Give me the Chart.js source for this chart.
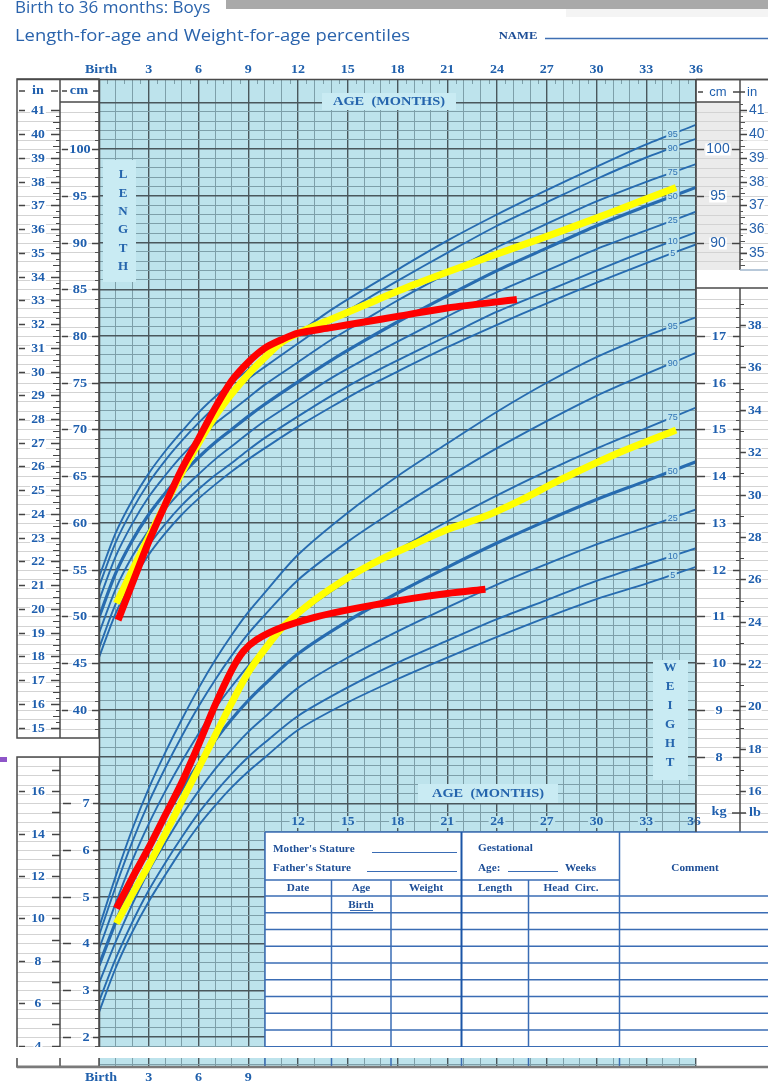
<!DOCTYPE html>
<html>
<head>
<meta charset="utf-8">
<title>Length-for-age and Weight-for-age percentiles</title>
<script src="https://cdn.jsdelivr.net/npm/chart.js@4.4.1/dist/chart.umd.min.js"></script>
<style>
  html, body { margin: 0; padding: 0; background: #fff; }
  canvas { display: block; }
</style>
</head>
<body>
<canvas id="growthChart" width="768" height="1086"></canvas>
<script>
// --- values ---
const lenAges = [0, 1, 2, 3, 4, 5, 6, 7, 8, 9, 10, 12, 14, 16, 18, 21, 24, 27, 30, 33, 36];
const len05 = [45.6, 50.3, 53.8, 56.6, 58.9, 60.9, 62.6, 64.1, 65.5, 66.8, 68.0, 70.3, 72.4, 74.4, 76.2, 78.8, 81.2, 83.5, 85.7, 87.8, 89.8];
const len10 = [46.6, 51.3, 54.8, 57.6, 59.9, 61.9, 63.6, 65.1, 66.4, 67.8, 69.1, 71.4, 73.6, 75.6, 77.4, 80.0, 82.6, 84.8, 87.0, 89.1, 91.1];
const len25 = [48.2, 52.9, 56.4, 59.2, 61.5, 63.5, 65.2, 66.8, 68.2, 69.6, 70.9, 73.2, 75.5, 77.5, 79.4, 82.1, 84.7, 87.0, 89.3, 91.3, 93.3];
const len50 = [49.9, 54.6, 58.1, 60.9, 63.2, 65.2, 67.0, 68.6, 70.0, 71.4, 72.7, 75.1, 77.4, 79.5, 81.5, 84.3, 87.0, 89.4, 91.8, 93.9, 95.9];
const len75 = [51.7, 56.4, 59.9, 62.8, 65.1, 67.2, 69.0, 70.6, 72.0, 73.4, 74.8, 77.2, 79.6, 81.7, 83.8, 86.7, 89.5, 92.0, 94.4, 96.5, 98.4];
const len90 = [53.2, 57.9, 61.4, 64.3, 66.7, 68.8, 70.7, 72.4, 73.9, 75.4, 76.7, 79.2, 81.6, 83.8, 85.9, 88.9, 91.8, 94.3, 96.8, 99.1, 101.1];
const len95 = [54.2, 58.9, 62.4, 65.3, 67.7, 69.8, 71.8, 73.5, 75.0, 76.4, 77.8, 80.3, 82.8, 85.0, 87.1, 90.2, 93.0, 95.6, 98.1, 100.5, 102.6];

const wtAges = [0, 1, 2, 3, 4, 5, 6, 7, 8, 9, 10, 12, 15, 18, 21, 24, 27, 30, 33, 36];
const wt05 = [2.53, 3.47, 4.24, 4.90, 5.47, 6.02, 6.52, 6.95, 7.34, 7.68, 7.98, 8.57, 9.16, 9.66, 10.12, 10.56, 10.98, 11.37, 11.70, 12.06];
const wt10 = [2.76, 3.67, 4.45, 5.14, 5.73, 6.28, 6.79, 7.23, 7.63, 7.99, 8.30, 8.87, 9.48, 10.01, 10.48, 10.94, 11.35, 11.76, 12.11, 12.46];
const wt25 = [3.15, 4.03, 4.83, 5.55, 6.16, 6.74, 7.26, 7.73, 8.15, 8.53, 8.85, 9.47, 10.12, 10.68, 11.19, 11.68, 12.12, 12.54, 12.91, 13.29];
const wt50 = [3.53, 4.45, 5.30, 6.05, 6.70, 7.30, 7.85, 8.35, 8.80, 9.20, 9.55, 10.20, 10.90, 11.50, 12.05, 12.57, 13.05, 13.50, 13.90, 14.31];
const wt75 = [3.88, 4.86, 5.77, 6.56, 7.26, 7.90, 8.49, 9.03, 9.50, 9.94, 10.31, 11.02, 11.77, 12.42, 13.03, 13.59, 14.11, 14.59, 15.03, 15.47];
const wt90 = [4.17, 5.21, 6.17, 7.02, 7.76, 8.44, 9.07, 9.64, 10.16, 10.63, 11.03, 11.78, 12.60, 13.31, 13.97, 14.60, 15.18, 15.72, 16.19, 16.64];
const wt95 = [4.34, 5.43, 6.44, 7.32, 8.09, 8.80, 9.46, 10.06, 10.60, 11.09, 11.51, 12.32, 13.22, 14.00, 14.70, 15.38, 16.00, 16.55, 17.00, 17.40];

// hand-drawn child curves [month, value]
const redLength = [[1.15, 49.6], [2, 53.5], [3, 58.0], [4, 62.0], [5, 65.8], [6, 69.0], [7, 72.3], [8, 75.2], [9, 77.2], [10, 78.7], [11, 79.6], [12, 80.3], [14, 80.9], [16, 81.5], [18, 82.1], [21, 83.0], [25.2, 83.9]];
const yellowLength = [[1.05, 51.4], [2, 54.9], [3, 58.5], [4, 62.0], [5, 65.4], [6, 68.5], [7, 71.4], [8, 73.8], [9, 75.9], [10, 77.7], [11, 79.3], [12.5, 80.7], [14, 81.8], [16, 83.3], [19, 85.5], [22, 87.5], [25, 89.4], [28, 91.3], [31, 93.3], [34.8, 95.9]];
const redWeight = [[1.05, 4.75], [2, 5.4], [3, 6.05], [4, 6.75], [5, 7.45], [6, 8.25], [7, 9.1], [8, 9.85], [8.7, 10.25], [9.5, 10.5], [11, 10.76], [13, 10.98], [15, 11.14], [17, 11.27], [19, 11.39], [21, 11.49], [23.3, 11.58]];
const yellowWeight = [[1.05, 4.43], [2, 5.05], [3, 5.68], [4, 6.35], [5, 7.05], [6, 7.75], [7, 8.45], [8, 9.15], [9, 9.8], [10, 10.3], [11.1, 10.78], [13, 11.35], [15.1, 11.85], [17, 12.22], [19.1, 12.56], [21, 12.86], [23.2, 13.13], [25.5, 13.5], [27.8, 13.92], [31, 14.45], [34.8, 14.99]];

const percentileNames = ['5', '10', '25', '50', '75', '90', '95'];
const ageTickMonths = [0, 3, 6, 9, 12, 15, 18, 21, 24, 27, 30, 33, 36];
const ageTickLabels = ['Birth', '3', '6', '9', '12', '15', '18', '21', '24', '27', '30', '33', '36'];
const lowerAgeTicks = [12, 15, 18, 21, 24, 27, 30, 33, 36];
const bottomAgeTicks = [0, 3, 6, 9];
const cmTicksLeft = [40, 45, 50, 55, 60, 65, 70, 75, 80, 85, 90, 95, 100];
const cmTicksRight = [90, 95, 100];
const inchTicksLeft = [15, 16, 17, 18, 19, 20, 21, 22, 23, 24, 25, 26, 27, 28, 29, 30, 31, 32, 33, 34, 35, 36, 37, 38, 39, 40, 41];
const inchTicksRight = [35, 36, 37, 38, 39, 40, 41];
const kgTicksLeft = [2, 3, 4, 5, 6, 7];
const kgTicksRight = [8, 9, 10, 11, 12, 13, 14, 15, 16, 17];
const lbTicksLeft = [4, 6, 8, 10, 12, 14, 16];
const lbTicksRight = [16, 18, 20, 22, 24, 26, 28, 30, 32, 34, 36, 38];

const lenSeries = [len05, len10, len25, len50, len75, len90, len95];
const wtSeries = [wt05, wt10, wt25, wt50, wt75, wt90, wt95];
const labelMonth = 34.6;

const C = {
  cyan: '#bde3ec', minor: '#7d9fa9', major: '#4a575c', curve: '#276cb0',
  ink: '#1f5fae', navy: '#1d4e97', tableLine: '#3a6cb4', frame: '#4a4a4a', rule: '#d3d3d3'
};
const SERIF = '"Liberation Serif", "DejaVu Serif", serif';

function pts(xs, ys) { return xs.map((x, i) => ({ x: x, y: ys[i] })); }
function pairs(arr) { return arr.map(p => ({ x: p[0], y: p[1] })); }
function interp(ages, vals, a) {
  for (let i = 1; i < ages.length; i++) {
    if (a <= ages[i]) {
      const t = (a - ages[i - 1]) / (ages[i] - ages[i - 1]);
      return vals[i - 1] + t * (vals[i] - vals[i - 1]);
    }
  }
  return vals[vals.length - 1];
}
const isWhole = v => Math.abs(v - Math.round(v)) < 1e-6;

function hline(ctx, x0, x1, y) { ctx.beginPath(); ctx.moveTo(x0, y); ctx.lineTo(x1, y); ctx.stroke(); }
function vline(ctx, x, y0, y1) { ctx.beginPath(); ctx.moveTo(x, y0); ctx.lineTo(x, y1); ctx.stroke(); }

function label(ctx, s, x, y, o) {
  ctx.save();
  ctx.font = o.font;
  ctx.textAlign = o.align || 'center';
  ctx.textBaseline = 'middle';
  ctx.translate(x, y);
  ctx.scale(o.sx || 1, 1);
  if (o.bg) {
    const w = ctx.measureText(s).width + (o.pad || 4);
    const left = ctx.textAlign === 'left' ? -2 : -w / 2;
    ctx.fillStyle = o.bg;
    ctx.fillRect(left, -(o.h || 12) / 2, w, o.h || 12);
  }
  ctx.fillStyle = o.color || C.ink;
  ctx.fillText(s, 0, 0);
  ctx.restore();
}

function drawPercentileNames(chart) {
  const { ctx, scales } = chart;
  const xLab = scales.x.getPixelForValue(labelMonth);
  ctx.save();
  ctx.font = '9px "Liberation Sans", sans-serif';
  ctx.textAlign = 'center';
  ctx.textBaseline = 'middle';
  const put = (val, scale, name) => {
    const y = scale.getPixelForValue(val);
    const w = ctx.measureText(name).width + 3;
    ctx.fillStyle = C.cyan;
    ctx.fillRect(xLab - w / 2, y - 4.5, w, 9);
    ctx.fillStyle = '#2f72b4';
    ctx.fillText(name, xLab, y + 0.5);
  };
  lenSeries.forEach((s, k) => put(interp(lenAges, s, labelMonth), scales.yL, percentileNames[k]));
  wtSeries.forEach((s, k) => put(interp(wtAges, s, labelMonth), scales.yW, percentileNames[k]));
  ctx.restore();
}

function leftPanel(ctx, a, YW, YL) {
  const x0 = 17, x1 = 60, x2 = a.left;
  const head = 102, upB = 738, loT = 757, loB = a.bottom;
  ctx.fillStyle = '#fff';
  ctx.fillRect(0, a.top, x2, loB - a.top);
  ctx.strokeStyle = C.rule; ctx.lineWidth = 1;
  for (let k = 7; k <= 110; k++) {
    const y = Math.round(YW(k * 0.2)) + 0.5;
    if ((y > head + 2 && y < upB) || (y > loT && y < loB)) hline(ctx, x0, x2, y);
  }
  // frames
  ctx.strokeStyle = C.frame; ctx.lineWidth = 1.5;
  ctx.strokeRect(x0, a.top, x2 - x0, upB - a.top);
  vline(ctx, x1, a.top, upB);
  hline(ctx, x1, x2, head);
  ctx.strokeRect(x0, loT, x2 - x0, loB - loT);
  vline(ctx, x1, loT, loB);

  const f = 'bold 13px ' + SERIF;
  ctx.strokeStyle = '#444'; ctx.lineWidth = 1.5;
  // headers
  hline(ctx, x0 + 2, x0 + 8, 91); hline(ctx, x1 - 9, x1 - 2, 91);
  label(ctx, 'in', 38, 91, { font: f, sx: 1.1 });
  hline(ctx, x1 + 2, x1 + 7, 91); hline(ctx, x2 - 6, x2, 91);
  label(ctx, 'cm', 79, 91, { font: f, sx: 1.1 });

  // inches (length part)
  inchTicksLeft.forEach(inch => {
    const y = Math.round(YL(inch * 2.54)) + 0.5;
    ctx.lineWidth = 1.5; ctx.strokeStyle = '#444';
    hline(ctx, x0 + 2, x0 + 8, y); hline(ctx, x1 - 9, x1, y);
    ctx.lineWidth = 1;
    for (let q = 1; q < 4; q++) {
      const yq = Math.round(YL((inch + q / 4) * 2.54)) + 0.5;
      if (yq > head + 3 && yq < upB) hline(ctx, x1 - (q === 2 ? 7 : 4), x1, yq);
    }
    label(ctx, String(inch), 38, y, { font: f, sx: 1.05, bg: '#fff', h: 11, pad: 2 });
  });
  // cm (length part)
  ctx.lineWidth = 1; ctx.strokeStyle = '#555';
  for (let cm = 38; cm <= 105; cm++) {
    const y = Math.round(YL(cm)) + 0.5;
    if (y > head + 2 && y < upB) hline(ctx, x2 - 4, x2, y);
  }
  cmTicksLeft.forEach(cm => {
    const y = Math.round(YL(cm)) + 0.5;
    ctx.lineWidth = 1.5; ctx.strokeStyle = '#444';
    hline(ctx, x1 + 2, x1 + 8, y); hline(ctx, x2 - 7, x2, y);
    label(ctx, String(cm), 80, y, { font: f, sx: 1.1, bg: '#fff', h: 11, pad: 2 });
  });
  // pounds (weight part)
  for (let lb = 4; lb <= 17; lb++) {
    const y = Math.round(YW(lb * 0.45359237)) + 0.5;
    if (y < loT + 3 || y > loB) continue;
    ctx.lineWidth = 1.5; ctx.strokeStyle = '#444';
    hline(ctx, x1 - 8, x1, y);
    if (lbTicksLeft.includes(lb)) {
      hline(ctx, x0 + 2, x0 + 8, y);
      label(ctx, String(lb), 38, y, { font: f, sx: 1.05, bg: '#fff', h: 11, pad: 2 });
    }
  }
  // kg (weight part)
  ctx.lineWidth = 1; ctx.strokeStyle = '#555';
  for (let k = 8; k <= 38; k++) {
    const y = Math.round(YW(k * 0.2)) + 0.5;
    if (y > loT + 2 && y < loB) hline(ctx, x2 - 4, x2, y);
  }
  kgTicksLeft.forEach(kg => {
    const y = Math.round(YW(kg)) + 0.5;
    ctx.lineWidth = 1.5; ctx.strokeStyle = '#444';
    hline(ctx, x1 + 3, x1 + 11, y); hline(ctx, x2 - 6, x2, y);
    label(ctx, String(kg), 86, y, { font: f, sx: 1.1, bg: '#fff', h: 11, pad: 2 });
  });
  ctx.fillStyle = '#8e55c8';
  ctx.fillRect(0, 757, 7, 5);
}

function rightPanel(ctx, a, YW, YL) {
  const x0 = a.right, x1 = 740, x2 = 768;
  const top = a.top, head = 102, upB = 270, loT = 288, loB = 832;
  ctx.fillStyle = '#fff';
  ctx.fillRect(x0 + 1, top, x2 - x0, loB - top);
  ctx.fillStyle = '#ebebeb';
  ctx.fillRect(x0 + 1, head, x1 - x0 - 1, upB - head);
  ctx.strokeStyle = C.rule; ctx.lineWidth = 1;
  for (let k = 7; k <= 110; k++) {
    const y = Math.round(YW(k * 0.2)) + 0.5;
    if ((y > head + 2 && y < upB) || (y > loT + 2 && y < loB - 4)) hline(ctx, x0, x2, y);
  }
  ctx.strokeStyle = C.frame; ctx.lineWidth = 1.5;
  hline(ctx, x0, x2, top + 0.5);
  vline(ctx, x1, top, upB);
  hline(ctx, x0, x1, head);
  hline(ctx, x0, x2, loT);
  vline(ctx, x1, loT, loB);
  ctx.strokeStyle = '#9fb6cc'; ctx.lineWidth = 1.5;
  hline(ctx, x1, x2, upB);

  const f = 'bold 13px ' + SERIF;
  ctx.strokeStyle = '#444'; ctx.lineWidth = 1.5;
  hline(ctx, x0 + 2, x0 + 7, 92); hline(ctx, x1 - 7, x1, 92);
  label(ctx, 'cm', 718, 92, { font: '13px "Liberation Sans", sans-serif' });
  hline(ctx, x1, x1 + 5, 92);
  label(ctx, 'in', 747, 92, { font: '13px "Liberation Sans", sans-serif', align: 'left' });

  cmTicksRight.forEach(cm => {
    const y = Math.round(YL(cm)) + 0.5;
    ctx.strokeStyle = '#444'; ctx.lineWidth = 1.5;
    hline(ctx, x0 + 1, x0 + 8, y); hline(ctx, x1 - 8, x1, y);
    label(ctx, String(cm), 718, y, { font: '14px "Liberation Sans", sans-serif', color: '#2762ac', bg: '#fff', h: 12, pad: 2 });
  });
  ctx.lineWidth = 1; ctx.strokeStyle = '#555';
  for (let q = 136; q <= 168; q++) {
    const y = Math.round(YL(q * 0.25 * 2.54)) + 0.5;
    if (y > head + 2 && y < upB) hline(ctx, x1, x1 + (q % 2 === 0 ? 5 : 3), y);
  }
  inchTicksRight.forEach(inch => {
    const y = Math.round(YL(inch * 2.54)) + 0.5;
    ctx.strokeStyle = '#444'; ctx.lineWidth = 1.5;
    hline(ctx, x1, x1 + 7, y);
    label(ctx, String(inch), 749, y, { font: '14px "Liberation Sans", sans-serif', color: '#2762ac', align: 'left', bg: '#fff', h: 12, pad: 2 });
  });
  // kg column
  ctx.lineWidth = 1; ctx.strokeStyle = '#555';
  for (let k = 36; k <= 88; k++) {
    const y = Math.round(YW(k * 0.2)) + 0.5;
    if (y > loT + 2 && y < 800) hline(ctx, x1 - 4, x1, y);
  }
  kgTicksRight.forEach(kg => {
    const y = Math.round(YW(kg)) + 0.5;
    ctx.strokeStyle = '#444'; ctx.lineWidth = 1.5;
    hline(ctx, x0 + 1, x0 + 9, y); hline(ctx, x1 - 7, x1, y);
    label(ctx, String(kg), 719, y, { font: f, sx: 1.1, bg: '#fff', h: 11, pad: 2 });
  });
  // lb column
  for (let lb = 15; lb <= 39; lb++) {
    const y = Math.round(YW(lb * 0.45359237)) + 0.5;
    if (y < loT + 3 || y > loB - 25) continue;
    ctx.strokeStyle = '#444'; ctx.lineWidth = lbTicksRight.includes(lb) ? 1.5 : 1;
    hline(ctx, x1, x1 + (lbTicksRight.includes(lb) ? 7 : 4), y);
    if (lbTicksRight.includes(lb)) label(ctx, String(lb), 748, y, { font: f, sx: 1.05, align: 'left', bg: '#fff', h: 11, pad: 2 });
  }
  ctx.strokeStyle = '#444'; ctx.lineWidth = 1.5;
  hline(ctx, x1 - 8, x1, 813); hline(ctx, x1, x1 + 6, 813);
  label(ctx, 'kg', 719, 812, { font: f, sx: 1.1, bg: '#fff', h: 11, pad: 2 });
  label(ctx, 'lb', 749, 813, { font: f, sx: 1.1, align: 'left', bg: '#fff', h: 11, pad: 2 });
}

function drawTable(ctx) {
  const x0 = 265, x1 = 768, y0 = 832, yEnd = 1047;
  const cA = 331.5, cB = 391, cC = 461.5, cD = 528.5, cE = 619.5;
  ctx.fillStyle = '#fff';
  ctx.fillRect(x0, y0, x1 - x0, yEnd - y0);
  ctx.strokeStyle = C.tableLine; ctx.lineWidth = 1.5;
  hline(ctx, x0, x1, y0); vline(ctx, x0, y0, yEnd);
  vline(ctx, cE, y0, yEnd);
  hline(ctx, x0, cE, 880);
  [cA, cB, cD].forEach(x => vline(ctx, x, 880, yEnd));
  for (let r = 0; r < 10; r++) hline(ctx, x0, x1, 896 + r * 16.74);
  ctx.strokeStyle = '#1b55a6'; ctx.lineWidth = 2;
  vline(ctx, cC, y0, yEnd);

  const f = 'bold 10px ' + SERIF;
  const o = { font: f, sx: 1.12, color: C.navy, align: 'left' };
  label(ctx, "Mother's Stature", 273, 849, o);
  label(ctx, "Father's Stature", 273, 868, o);
  label(ctx, 'Gestational', 478, 848, o);
  label(ctx, 'Age:', 478, 868, o);
  label(ctx, 'Weeks', 565, 868, o);
  const oc = { font: f, sx: 1.12, color: C.navy };
  label(ctx, 'Comment', 695, 868, oc);
  label(ctx, 'Date', 298, 888, oc);
  label(ctx, 'Age', 361, 888, oc);
  label(ctx, 'Weight', 426, 888, oc);
  label(ctx, 'Length', 495, 888, oc);
  label(ctx, 'Head  Circ.', 571, 888, oc);
  label(ctx, 'Birth', 361, 905, oc);
  ctx.strokeStyle = C.tableLine; ctx.lineWidth = 1;
  hline(ctx, 350, 373, 910.5);
  hline(ctx, 372, 457, 852.5);
  hline(ctx, 367, 457, 871.5);
  hline(ctx, 508, 558, 871.5);
}

const decor = {
  id: 'decor',
  beforeDraw(chart) {
    const { ctx, chartArea: a } = chart;
    ctx.save();
    ctx.fillStyle = '#fff';
    ctx.fillRect(0, 0, chart.width, chart.height);
    ctx.fillStyle = C.cyan;
    ctx.fillRect(a.left, a.top, a.right - a.left, a.bottom - a.top);
    ctx.restore();
  },
  beforeDatasetDraw(chart, args) {
    if (args.index === 3) drawPercentileNames(chart);
  },
  afterDraw(chart) {
    const { ctx, chartArea: a, scales } = chart;
    const X = v => scales.x.getPixelForValue(v);
    const YW = v => scales.yW.getPixelForValue(v);
    const YL = v => scales.yL.getPixelForValue(v);
    ctx.save();

    // half-month marks along the top strip
    ctx.strokeStyle = C.minor; ctx.lineWidth = 1;
    for (let m = 0.5; m < 36; m += 1) vline(ctx, Math.round(X(m)) + 0.5, a.top, a.top + 5);

    // light label boxes inside the grid
    const bf = 'bold 12px ' + SERIF;
    const boxBg = '#c9ebf3';
    ctx.fillStyle = boxBg;
    ctx.fillRect(322, 93, 134, 17);
    label(ctx, 'AGE  (MONTHS)', 389, 101.5, { font: bf, sx: 1.2, color: '#2565ad' });
    ctx.fillStyle = boxBg;
    ctx.fillRect(418, 784, 140, 19);
    label(ctx, 'AGE  (MONTHS)', 488, 793.5, { font: bf, sx: 1.2, color: '#2565ad' });
    ctx.fillStyle = boxBg;
    ctx.fillRect(103, 160, 33, 122);
    'LENGTH'.split('').forEach((ch, i) => label(ctx, ch, 123, 175 + i * 18.3, { font: 'bold 13px ' + SERIF, color: '#2565ad' }));
    ctx.fillStyle = boxBg;
    ctx.fillRect(653, 660, 35, 120);
    'WEIGHT'.split('').forEach((ch, i) => label(ctx, ch, 670, 668 + i * 19, { font: 'bold 13px ' + SERIF, color: '#2565ad' }));

    rightPanel(ctx, a, YW, YL);
    leftPanel(ctx, a, YW, YL);
    drawTable(ctx);

    lowerAgeTicks.forEach(m => label(ctx, String(m), X(m) - (m === 36 ? 2 : 0), 822, { font: 'bold 13px ' + SERIF, sx: 1.05, color: '#2565ad', bg: m === 36 ? null : C.cyan, h: 12, pad: 3 }));

    // white band near the bottom and the bottom edge
    ctx.fillStyle = '#fff';
    ctx.fillRect(15, 1047, 768 - 15, 11);
    ctx.strokeStyle = C.tableLine; ctx.lineWidth = 1.5;
    [265, 331.5, 391, 461.5, 528.5, 619.5].forEach(x => vline(ctx, x, 1058, 1066));
    ctx.strokeStyle = '#7a7a7a'; ctx.lineWidth = 2.5;
    hline(ctx, 17, 768, a.bottom);

    // chart frame
    ctx.strokeStyle = C.frame; ctx.lineWidth = 1.5;
    hline(ctx, 17, 768, a.top + 0.5);
    vline(ctx, a.left + 0.5, a.top, 1047);
    vline(ctx, a.right, a.top, 832);

    // headings
    ctx.fillStyle = '#a9a9a9';
    ctx.fillRect(226, 0, 542, 9);
    ctx.fillStyle = '#f4f4f4';
    ctx.fillRect(566, 9, 202, 8);
    ctx.font = '17px "Open Sans", sans-serif';
    ctx.fillStyle = '#2a63ac'; ctx.textAlign = 'left'; ctx.textBaseline = 'alphabetic';
    ctx.fillText('Birth to 36 months: Boys', 15, 13);
    ctx.save();
    const t2 = 'Length-for-age and Weight-for-age percentiles';
    const w2 = ctx.measureText(t2).width;
    ctx.translate(15, 41); ctx.scale(395 / w2, 1);
    ctx.fillText(t2, 0, 0);
    ctx.restore();
    label(ctx, 'NAME', 518, 36, { font: 'bold 11px ' + SERIF, sx: 1.15, color: '#1d4e97' });
    ctx.strokeStyle = '#3f6fb3'; ctx.lineWidth = 1.5;
    hline(ctx, 545, 768, 38.5);

    ageTickMonths.forEach((m, i) => label(ctx, ageTickLabels[i], X(m) + (m === 0 ? 2 : 0), 70, { font: 'bold 13px ' + SERIF, sx: 1.08, color: '#2060ac' }));
    bottomAgeTicks.forEach((m, i) => label(ctx, ageTickLabels[i], X(m) + (m === 0 ? 2 : 0), 1078, { font: 'bold 13px ' + SERIF, sx: 1.08, color: '#2060ac' }));
    ctx.restore();
  }
};

const datasets = [
  { label: 'Red length', data: pairs(redLength), yAxisID: 'yL', borderColor: '#ff0000', borderWidth: 7 },
  { label: 'Red weight', data: pairs(redWeight), yAxisID: 'yW', borderColor: '#ff0000', borderWidth: 7 },
  { label: 'Yellow length', data: pairs(yellowLength), yAxisID: 'yL', borderColor: '#ffff00', borderWidth: 7 },
  { label: 'Yellow weight', data: pairs(yellowWeight), yAxisID: 'yW', borderColor: '#ffff00', borderWidth: 7 }
];
lenSeries.forEach((s, k) => datasets.push({
  label: 'Length P' + percentileNames[k], data: pts(lenAges, s), yAxisID: 'yL',
  borderColor: C.curve, borderWidth: k === 3 ? 3.2 : 1.9
}));
wtSeries.forEach((s, k) => datasets.push({
  label: 'Weight P' + percentileNames[k], data: pts(wtAges, s), yAxisID: 'yW',
  borderColor: C.curve, borderWidth: k === 3 ? 3.2 : 1.9
}));

const gridX = {
  drawTicks: false,
  color: c => (c.tick && isWhole(c.tick.value / 3)) ? C.major : C.minor,
  lineWidth: c => (c.tick && isWhole(c.tick.value / 3)) ? 1.4 : 1
};
const gridY = {
  drawTicks: false,
  color: c => {
    const v = c.tick ? c.tick.value : 0;
    if (v > 22.05) return 'rgba(0,0,0,0)';
    return isWhole(v) ? C.major : C.minor;
  },
  lineWidth: c => (c.tick && isWhole(c.tick.value)) ? 1.4 : 1
};

new Chart(document.getElementById('growthChart').getContext('2d'), {
  type: 'line',
  data: { datasets: datasets },
  options: {
    responsive: false,
    animation: false,
    devicePixelRatio: 1,
    events: [],
    layout: { padding: { left: 99, right: 72, top: 79, bottom: 19 } },
    elements: {
      point: { radius: 0 },
      line: { fill: false, tension: 0.3, borderCapStyle: 'butt', borderJoinStyle: 'round' }
    },
    plugins: { legend: { display: false }, tooltip: { enabled: false } },
    scales: {
      x: {
        type: 'linear', min: 0, max: 36,
        ticks: { display: false, stepSize: 1, includeBounds: false },
        grid: gridX, border: { display: false }
      },
      yW: {
        type: 'linear', position: 'left', min: 1.357, max: 22.5,
        ticks: { display: false, stepSize: 0.2, includeBounds: false },
        grid: gridY, border: { display: false }
      },
      yL: {
        type: 'linear', position: 'right', display: false, min: 1.785, max: 107.5
      }
    }
  },
  plugins: [decor]
});
</script>
</body>
</html>
